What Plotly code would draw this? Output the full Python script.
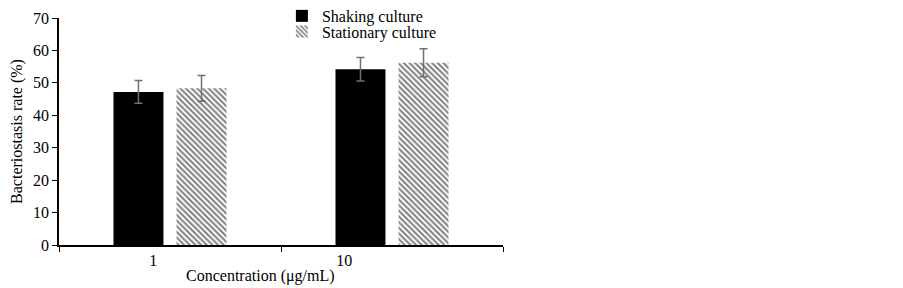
import plotly.graph_objects as go

categories = ["1", "10"]
shaking = [47.2, 54.2]
shaking_err = [3.5, 3.6]
stationary = [48.3, 56.2]
stationary_err = [4.0, 4.3]

x_pos = [0, 1]
offset = 0.142
bar_w = 0.225
label_shift = [-0.075, -0.215]

fig = go.Figure()
fig.add_trace(go.Bar(
    x=[p - offset for p in x_pos], y=shaking, width=bar_w, name="Shaking culture",
    marker=dict(color="black", line=dict(width=0)), legend="legend",
    error_y=dict(type="data", array=shaking_err, color="#707070", thickness=1.5, width=4),
))
fig.add_trace(go.Bar(
    x=[p + offset for p in x_pos], y=stationary, width=bar_w, name="Stationary culture",
    marker=dict(color="white", line=dict(width=0),
                pattern=dict(shape="\\", size=4, solidity=0.5, fgcolor="#000000", bgcolor="white")),
    legend="legend2",
    error_y=dict(type="data", array=stationary_err, color="#707070", thickness=1.5, width=4),
))
# invisible trace to carry tick labels axis
fig.add_trace(go.Scatter(x=[p + s for p, s in zip(x_pos, label_shift)], y=[0, 0], xaxis="x2",
                         mode="markers", marker=dict(opacity=0), showlegend=False, hoverinfo="skip"))

font = dict(family="Liberation Serif, Times New Roman, serif", size=16, color="black")
leg_common = dict(xanchor="left", yanchor="middle", bgcolor="rgba(0,0,0,0)", font=font,
                  itemwidth=30, borderwidth=0)
fig.update_layout(
    width=903, height=288,
    margin=dict(l=51, r=408, t=10, b=51, autoexpand=False),
    paper_bgcolor="white", plot_bgcolor="white",
    font=font,
    barmode="overlay",
    showlegend=True,
    legend=dict(x=0.502, y=1.009, **leg_common),
    legend2=dict(x=0.502, y=0.94, **leg_common),
    xaxis=dict(range=[-0.5, 1.5], tickvals=[-0.5, 0.5, 1.5], showticklabels=False,
               ticks="outside", ticklen=5, tickcolor="black", showline=True, linecolor="black",
               linewidth=1.5, showgrid=False, zeroline=False, automargin=False),
    xaxis2=dict(range=[-0.5, 1.5], overlaying="x", tickvals=[p + s for p, s in zip(x_pos, label_shift)],
                ticktext=categories, ticks="", side="bottom", showline=False, showgrid=False,
                zeroline=False, tickfont=font, automargin=False, ticklabelstandoff=4),
    yaxis=dict(range=[0, 70], tickvals=list(range(0, 71, 10)), ticks="outside", ticklen=5,
               tickcolor="black", showline=True, linecolor="black", linewidth=1.5, showgrid=False,
               zeroline=False, tickfont=font, automargin=False,
               title=dict(text="Bacteriostasis rate (%)", font=font, standoff=6)),
    annotations=[dict(text="Concentration (μg/mL)", showarrow=False, font=font,
                      xref="paper", yref="paper", xanchor="center", yanchor="middle",
                      x=(252 - 51) / 444, y=-31 / 227)],
)

fig.write_html("out.html")
